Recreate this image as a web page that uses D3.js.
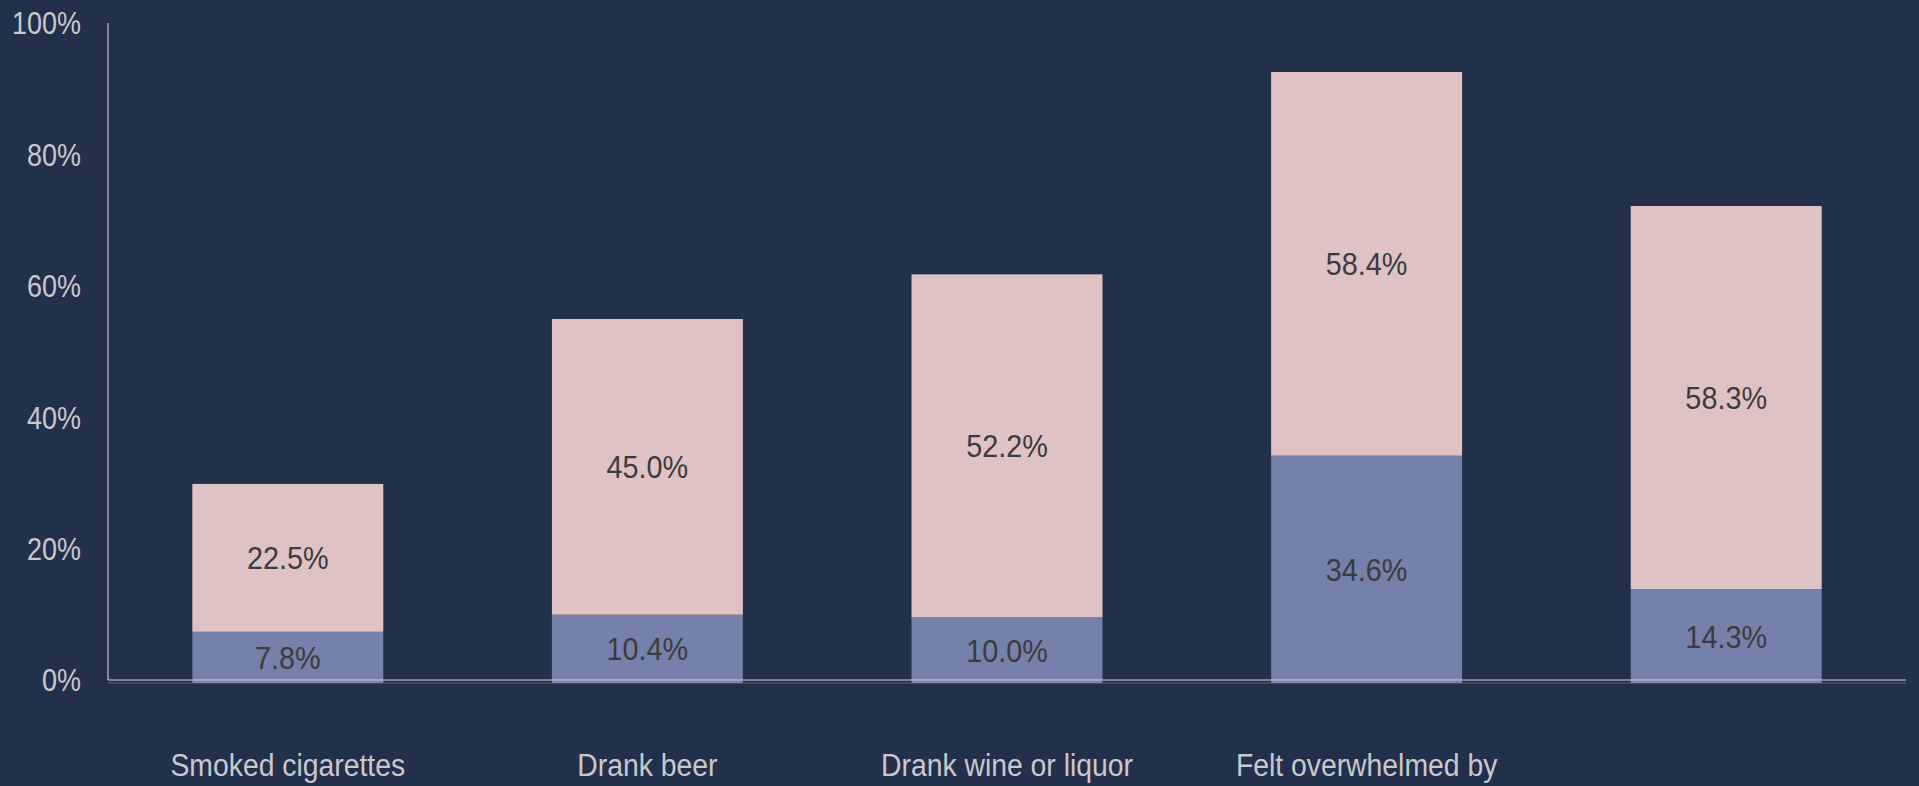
<!DOCTYPE html>
<html>
<head>
<meta charset="utf-8">
<script src="https://cdn.jsdelivr.net/npm/d3@7"></script>
<style>
  html, body { margin: 0; padding: 0; background: #22304c; overflow: hidden; }
  svg { display: block; }
</style>
</head>
<body>
<svg id="chart" width="1919" height="786"></svg>
<script>
// ---- data ----
const categories = ["Smoked cigarettes", "Drank beer", "Drank wine or liquor", "Felt overwhelmed by", ""];
const seriesBottom = [7.8, 10.4, 10.0, 34.6, 14.3];   // blue segment
const seriesTop = [22.5, 45.0, 52.2, 58.4, 58.3];     // pink segment
const yTicks = [0, 20, 40, 60, 80, 100];
const yTickLabels = ["0%", "20%", "40%", "60%", "80%", "100%"];

(function () {
// ---- layout ----
const W = 1919, H = 786;
const plotLeft = 108, plotRight = 1906, plotTop = 26, plotBottom = 683;
const colorBottom = "#7580ab", colorTop = "#dfc3c4";
const fontFam = "'Liberation Sans', Arial, sans-serif";
const sqVal = 0.9, sqTick = 0.87, sqCat = 0.9;

const svg = d3.select("#chart");
svg.append("rect").attr("width", W).attr("height", H).attr("fill", "#22304c");

const idx = categories.map((d, i) => i);
const x = d3.scaleBand().domain(idx).range([plotLeft, plotRight]).paddingInner(0.469).paddingOuter(0.2345);
const y = d3.scaleLinear().domain([0, 100]).range([plotBottom, plotTop]);

const rows = idx.map(i => ({ i, b: seriesBottom[i], t: seriesTop[i] }));

// bars
const g = svg.append("g");
g.selectAll("rect.bot").data(rows).join("rect")
  .attr("class", "bot")
  .attr("x", d => x(d.i)).attr("width", x.bandwidth())
  .attr("y", d => y(d.b)).attr("height", d => y(0) - y(d.b))
  .attr("fill", colorBottom);
g.selectAll("rect.tp").data(rows).join("rect")
  .attr("class", "tp")
  .attr("x", d => x(d.i)).attr("width", x.bandwidth())
  .attr("y", d => y(d.b + d.t)).attr("height", d => y(d.b) - y(d.b + d.t))
  .attr("fill", colorTop);

// value labels
g.selectAll("text.vb").data(rows).join("text")
  .attr("class", "vb")
  .attr("transform", d => `translate(${x(d.i) + x.bandwidth() / 2},${(y(0) + y(d.b)) / 2}) scale(${sqVal},1)`)
  .attr("dy", "0.36em")
  .attr("text-anchor", "middle")
  .attr("font-family", fontFam).attr("font-size", 32)
  .attr("fill", "#3b3b3d")
  .text(d => d.b.toFixed(1) + "%");
g.selectAll("text.vt").data(rows).join("text")
  .attr("class", "vt")
  .attr("transform", d => `translate(${x(d.i) + x.bandwidth() / 2},${(y(d.b) + y(d.b + d.t)) / 2}) scale(${sqVal},1)`)
  .attr("dy", "0.36em")
  .attr("text-anchor", "middle")
  .attr("font-family", fontFam).attr("font-size", 32)
  .attr("fill", "#3b3b3d")
  .text(d => d.t.toFixed(1) + "%");

// y axis
const yAxis = d3.axisLeft(y).tickValues(yTicks).tickFormat((d, i) => yTickLabels[i]).tickSize(0).tickPadding(27);
const ya = svg.append("g").attr("transform", `translate(${plotLeft},-2)`).call(yAxis);
ya.select(".domain").remove();
ya.selectAll("text")
  .attr("x", -27 / sqTick)
  .attr("transform", `scale(${sqTick},1)`)
  .attr("font-family", fontFam).attr("font-size", 31)
  .attr("fill", "#c9c9cc");

// axis lines
svg.append("line").attr("x1", plotLeft).attr("x2", plotLeft).attr("y1", 23).attr("y2", 680)
  .attr("stroke", "#c4c4c8").attr("stroke-width", 1.2);
svg.append("line").attr("x1", plotLeft).attr("x2", plotRight).attr("y1", 680).attr("y2", 680)
  .attr("stroke", "#c4c4c8").attr("stroke-width", 1.6).attr("stroke-opacity", 0.75);
svg.append("line").attr("x1", plotLeft).attr("x2", plotRight).attr("y1", 683).attr("y2", 683)
  .attr("stroke", "#c4c4c8").attr("stroke-width", 1).attr("stroke-opacity", 0.35);

// category labels
svg.append("g").selectAll("text").data(idx).join("text")
  .attr("transform", i => `translate(${x(i) + x.bandwidth() / 2},776) scale(${sqCat},1)`)
  .attr("text-anchor", "middle")
  .attr("font-family", fontFam).attr("font-size", 31.5)
  .attr("fill", "#c9c9cc")
  .text(i => categories[i]);
})();
</script>
</body>
</html>
